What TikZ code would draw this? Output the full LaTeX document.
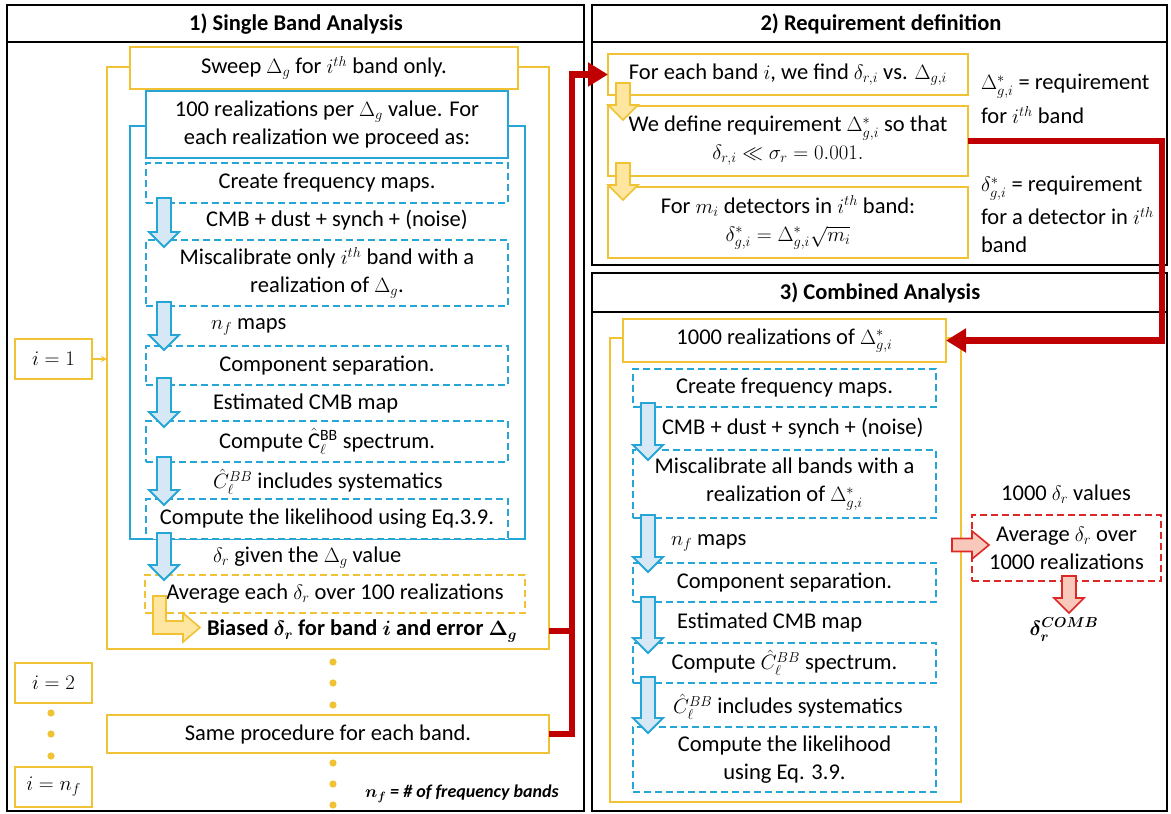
\documentclass[tikz,border=0pt]{standalone}
\usepackage{fontspec}
\setmainfont{Carlito}
\usepackage{amsmath,amssymb}
\usetikzlibrary{arrows.meta,calc}
\definecolor{gold}{RGB}{240,194,52}
\definecolor{cyanc}{RGB}{38,166,214}
\definecolor{darkred}{RGB}{192,0,0}
\definecolor{redc}{RGB}{222,40,40}
\definecolor{lblue}{RGB}{214,232,246}
\definecolor{lyellow}{RGB}{255,230,160}
\definecolor{lred}{RGB}{248,200,186}
\newcommand{\vblock}[4]{\draw[#1] (#2-7,#3) -- (#2+7,#3) -- (#2+7,#4-15) -- (#2+15,#4-15) -- (#2,#4) -- (#2-15,#4-15) -- (#2-7,#4-15) -- cycle;}
\begin{document}
\begin{tikzpicture}[x=1pt,y=-1pt,
  every node/.style={font=\fontsize{22.5}{28}\selectfont, inner sep=0pt, outer sep=0pt, align=center},
  ttl/.style={font=\fontsize{22.5}{28}\selectfont\bfseries},
  panel/.style={draw=black, line width=2.2pt},
  ybox/.style={draw=gold, line width=2pt, fill=white},
  cbox/.style={draw=cyanc, line width=2pt, fill=white},
  cdash/.style={cbox, dash pattern=on 7pt off 4pt},
  ydash/.style={ybox, dash pattern=on 7pt off 4pt},
  rdash/.style={draw=redc, line width=2pt, fill=white, dash pattern=on 7pt off 4pt},
  lbl/.style={anchor=west},
  bluearr/.style={draw=cyanc, fill=lblue, line width=1.8pt},
  yelarr/.style={draw=gold, fill=lyellow, line width=1.6pt},
  redarr/.style={draw=redc, fill=lred, line width=1.6pt},
  redline/.style={draw=darkred, line width=6.5pt},
  ibox/.style={ybox, minimum width=77pt, minimum height=40pt},
  dot/.style={fill=gold}
]
\useasboundingbox (0,0) rectangle (1171,814);
% ---------- panels ----------
\draw[panel] (7,5) rectangle (584,811);
\draw[panel] (7,42) -- (584,42);
\node[ttl] (t1) at (296,24) {1) Single Band Analysis};
\draw[panel] (592,5) rectangle (1167,265);
\draw[panel] (592,42) -- (1167,42);
\node[ttl] (t2) at (881,24) {2) Requirement definition};
\draw[panel] (592,273) rectangle (1167,811);
\draw[panel] (592,312) -- (1167,312);
\node[ttl] (t3) at (880,293) {3) Combined Analysis};
% ---------- panel 1 ----------
\node[draw=gold,line width=2pt,minimum width=442pt,minimum height=582pt] (loop) at (328,358) {};
\node[draw=cyanc,line width=2pt,minimum width=395pt,minimum height=413pt] (cframe) at (327.5,332.5) {};
\node[ybox,minimum width=388pt,minimum height=42pt] (sweep) at (324,68) {Sweep $\Delta_g$ for $i^{th}$ band only.};
\node[cbox,minimum width=362pt,minimum height=67pt] (real) at (327,124.5) {100 realizations per $\Delta_g$ value. For\\ each realization we proceed as:};
\node[cdash,minimum width=362pt,minimum height=40pt] (cfm) at (327,183) {Create frequency maps.};
\node (l1) at (337,220) {CMB + dust + synch + (noise)};
\node[cdash,minimum width=362pt,minimum height=66pt] (mis) at (327,273) {Miscalibrate only $i^{th}$ band with a\\ realization of $\Delta_g$.};
\node[lbl] (l2) at (211,327) {$n_f$ maps};
\node[cdash,minimum width=362pt,minimum height=39pt] (comp) at (327,365.5) {Component separation.};
\node[lbl] (l3) at (213,403) {Estimated CMB map};
\node[cdash,minimum width=362pt,minimum height=41pt] (spec) at (327,441.5) {Compute $\hat{\mathrm{C}}_\ell^{\mathrm{BB}}$ spectrum.};
\node[lbl] (l4) at (213,482) {$\hat{C}_\ell^{BB}$ includes systematics};
\node[cdash,minimum width=362pt,minimum height=40pt] (like) at (327,519) {Compute the likelihood using Eq.3.9.};
\node[lbl] (l5) at (213,558) {$\delta_r$ given the $\Delta_g$ value};
\node[ydash,minimum width=380pt,minimum height=38pt] (avg) at (335,594) {Average each $\delta_r$ over 100 realizations};
\node[lbl,font=\fontsize{22.5}{28}\selectfont\bfseries\boldmath] (biased) at (207,631) {Biased $\delta_r$ for band $i$ and error $\Delta_g$};
\node[ybox,minimum width=442pt,minimum height=38pt] (same) at (328,734) {Same procedure for each band.};
\node[ibox] (i1) at (53.5,359) {$i=1$};
\node[ibox] (i2) at (53.5,682.5) {$i=2$};
\node[ibox] (inf) at (53.5,787) {$i=n_f$};
\draw[gold,line width=2pt,-{Stealth[length=6pt,width=6pt]}] (i1.east) -- (loop.west |- i1.east);
\foreach \yy in {662,683,705,763,784,805} \fill[dot] (333,\yy) circle (3.6pt);
\foreach \yy in {713,734,756} \fill[dot] (51,\yy) circle (3.6pt);
\node[font=\fontsize{18}{22}\selectfont\bfseries\itshape\boldmath] (nfn) at (462,794) {$n_f$ = \# of frequency bands};
\vblock{bluearr}{164}{198}{247}
\vblock{bluearr}{164}{302}{350}
\vblock{bluearr}{164}{378}{427}
\vblock{bluearr}{164}{457}{505}
\vblock{bluearr}{164}{533}{580}
\draw[yelarr] (153,596) -- (166,596) -- (166,621) -- (183,621) -- (183,613) -- (200,627.5) -- (183,642) -- (183,634) -- (153,634) -- cycle;
% ---------- panel 2 ----------
\node[ybox,minimum width=360pt,minimum height=41pt] (ba) at (788,74.5) {For each band $i$, we find $\delta_{r,i}$ vs. $\Delta_{g,i}$};
\node[ybox,minimum width=360pt,minimum height=70pt] (bb) at (788,141) {We define requirement $\Delta^*_{g,i}$ so that\\ $\delta_{r,i} \ll \sigma_r = 0.001.$};
\node[ybox,minimum width=360pt,minimum height=71pt] (bc) at (788,222.5) {For $m_i$ detectors in $i^{th}$ band:\\ $\delta^*_{g,i} = \Delta^*_{g,i}\sqrt{m_i}$};
\vblock{yelarr}{623}{83}{120}
\vblock{yelarr}{623}{163}{200}
\node[lbl] (s1) at (981,86) {$\Delta^*_{g,i}$ = requirement};
\node[lbl] (s2) at (981,115) {for $i^{th}$ band};
\node[lbl] (s3) at (981,188) {$\delta^*_{g,i}$ = requirement};
\node[lbl] (s4) at (981,216) {for a detector in $i^{th}$};
\node[lbl] (s5) at (981,245) {band};
% ---------- panel 3 ----------
\node[draw=gold,line width=2pt,minimum width=351pt,minimum height=464pt] (loop3) at (785.5,570) {};
\node[ybox,minimum width=323pt,minimum height=43pt] (c1000) at (784.5,340.5) {1000 realizations of $\Delta^*_{g,i}$};
\node[cdash,minimum width=303pt,minimum height=38pt] (cfm3) at (784.5,388) {Create frequency maps.};
\node[lbl] (m1) at (662,428) {CMB + dust + synch + (noise)};
\node[cdash,minimum width=303pt,minimum height=68pt] (mis3) at (784.5,484) {Miscalibrate all bands with a\\ realization of $\Delta^*_{g,i}$};
\node[lbl] (m2) at (671,543) {$n_f$ maps};
\node[cdash,minimum width=303pt,minimum height=39pt] (comp3) at (784.5,582.5) {Component separation.};
\node[lbl] (m3) at (677,622) {Estimated CMB map};
\node[cdash,minimum width=303pt,minimum height=40pt] (spec3) at (784.5,663) {Compute $\hat{C}_\ell^{BB}$ spectrum.};
\node[lbl] (m4) at (673,707) {$\hat{C}_\ell^{BB}$ includes systematics};
\node[cdash,minimum width=303pt,minimum height=65pt] (like3) at (784.5,759.5) {Compute the likelihood\\ using Eq. 3.9.};
\vblock{bluearr}{648}{403}{460}
\vblock{bluearr}{648}{515}{572}
\vblock{bluearr}{648}{597}{653}
\vblock{bluearr}{648}{677}{733}
\node (vals) at (1066,494) {1000 $\delta_r$ values};
\node[rdash,minimum width=189pt,minimum height=66pt] (ravg) at (1066.5,548) {Average $\delta_r$ over\\ 1000 realizations};
\draw[redarr] (952,538.5) -- (972,538.5) -- (972,531) -- (989,545) -- (972,559) -- (972,551.5) -- (952,551.5) -- cycle;
\vblock{redarr}{1069}{576}{613}
\node[font=\fontsize{22.5}{28}\selectfont\boldmath] (comb) at (1064,630) {$\delta_r^{COMB}$};
% ---------- red connectors ----------
\coordinate (rv) at (572,0);
\coordinate (rv2) at (1162,0);
\draw[redline] (same.east) -| (rv |- biased);
\draw[redline,-{Triangle[length=20pt,width=23pt]}] (loop.east |- biased) -| (rv |- ba.west) -- (ba.west);
\draw[redline,-{Triangle[length=20pt,width=23pt]}] (bb.east) -| (rv2 |- c1000.east) -- (c1000.east);
\end{tikzpicture}
\end{document}
